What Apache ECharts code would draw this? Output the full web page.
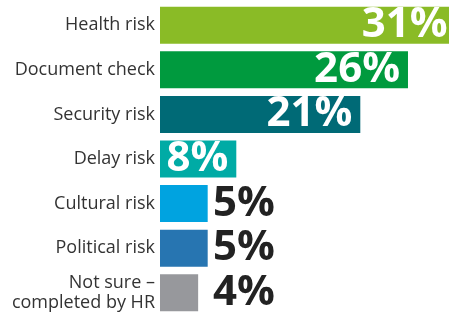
<!DOCTYPE html>
<html>
<head>
<meta charset="utf-8">
<script src="https://cdn.jsdelivr.net/npm/echarts@6/dist/echarts.min.js"></script>
<style>
  html, body { margin: 0; padding: 0; background: #fff; }
  #chart { width: 449px; height: 315px; }
</style>
</head>
<body>
<div id="chart"></div>
<script>
var categories = ['Health risk', 'Document check', 'Security risk', 'Delay risk',
    'Cultural risk', 'Political risk', 'Not sure –\ncompleted by HR'];
var values = [31, 26, 21, 8, 5, 5, 4];
var colors = ['#8abb26', '#009a3e', '#006a76', '#00aba5', '#00a3e0', '#2775b1', '#97989c'];

var gridLeft = 160;
var gridWidth = 289;
var xMax = 30.3;
var pxPerUnit = gridWidth / xMax;

var data = values.map(function (v, i) {
    var inside = v >= 8;
    return {
        value: v,
        itemStyle: {color: colors[i]},
        label: inside ? {
            position: 'insideRight',
            distance: 8,
            color: '#fff'
        } : {
            position: 'right',
            // outside labels line up at the same x
            distance: 53 - v * pxPerUnit,
            color: '#222'
        }
    };
});

var option = {
    animation: false,
    grid: {
        left: gridLeft,
        width: gridWidth,
        top: 3,
        height: 313
    },
    xAxis: {
        type: 'value',
        min: 0,
        max: xMax,
        show: false
    },
    yAxis: {
        type: 'category',
        inverse: true,
        data: categories,
        axisLine: {show: false},
        axisTick: {show: false},
        axisLabel: {
            margin: 5,
            color: '#333',
            fontFamily: 'Open Sans',
            fontSize: 18,
            lineHeight: 20,
            align: 'right'
        }
    },
    series: [{
        type: 'bar',
        barWidth: 37,
        clip: false,
        data: data,
        label: {
            show: true,
            fontFamily: 'Open Sans',
            fontWeight: 'bold',
            fontSize: 42,
            formatter: '{c}%'
        }
    }]
};

var chart = echarts.init(document.getElementById('chart'));
chart.setOption(option);
</script>
</body>
</html>
